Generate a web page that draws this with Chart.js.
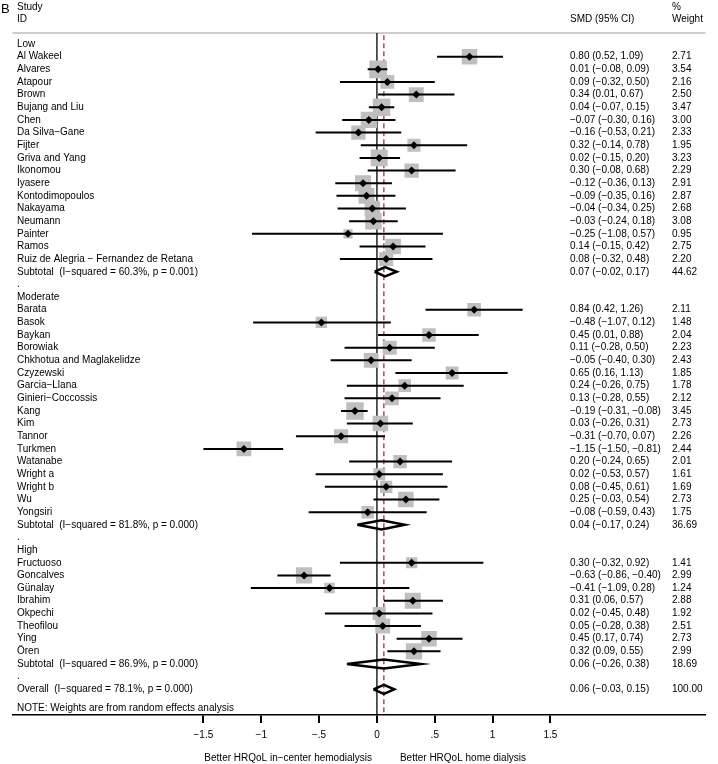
<!DOCTYPE html>
<html>
<head>
<meta charset="utf-8">
<script src="https://cdn.jsdelivr.net/npm/chart.js@4.4.1/dist/chart.umd.min.js"></script>
<style>
    body { margin: 0; background: #fff; }
    #wrap { width: 718px; height: 764px; }
</style>
</head>
<body>
<div id="wrap"><canvas id="forest" width="718" height="764"></canvas></div>
<script>
// Subgroups
const groupNames = ['Low', 'Moderate', 'High'];

// Low
const lowStudies = ['Al Wakeel', 'Alvares', 'Atapour', 'Brown', 'Bujang and Liu', 'Chen', 'Da Silva\u2212Gane',
    'Fijter', 'Griva and Yang', 'Ikonomou', 'Iyasere', 'Kontodimopoulos', 'Nakayama', 'Neumann', 'Painter',
    'Ramos', 'Ruiz de Alegria \u2212 Fernandez de Retana'];
const lowSmd = [0.80, 0.01, 0.09, 0.34, 0.04, -0.07, -0.16, 0.32, 0.02, 0.30, -0.12, -0.09, -0.04, -0.03, -0.25, 0.14, 0.08];
const lowLower = [0.52, -0.08, -0.32, 0.01, -0.07, -0.30, -0.53, -0.14, -0.15, -0.08, -0.36, -0.35, -0.34, -0.24, -1.08, -0.15, -0.32];
const lowUpper = [1.09, 0.09, 0.50, 0.67, 0.15, 0.16, 0.21, 0.78, 0.20, 0.68, 0.13, 0.16, 0.25, 0.18, 0.57, 0.42, 0.48];
const lowWeight = [2.71, 3.54, 2.16, 2.50, 3.47, 3.00, 2.33, 1.95, 3.23, 2.29, 2.91, 2.87, 2.68, 3.08, 0.95, 2.75, 2.20];

// Moderate
const modStudies = ['Barata', 'Basok', 'Baykan', 'Borowiak', 'Chkhotua and Maglakelidze', 'Czyzewski',
    'Garcia\u2212Llana', 'Ginieri\u2212Coccossis', 'Kang', 'Kim', 'Tannor', 'Turkmen', 'Watanabe', 'Wright a',
    'Wright b', 'Wu', 'Yongsiri'];
const modSmd = [0.84, -0.48, 0.45, 0.11, -0.05, 0.65, 0.24, 0.13, -0.19, 0.03, -0.31, -1.15, 0.20, 0.02, 0.08, 0.25, -0.08];
const modLower = [0.42, -1.07, 0.01, -0.28, -0.40, 0.16, -0.26, -0.28, -0.31, -0.26, -0.70, -1.50, -0.24, -0.53, -0.45, -0.03, -0.59];
const modUpper = [1.26, 0.12, 0.88, 0.50, 0.30, 1.13, 0.75, 0.55, -0.08, 0.31, 0.07, -0.81, 0.65, 0.57, 0.61, 0.54, 0.43];
const modWeight = [2.11, 1.48, 2.04, 2.23, 2.43, 1.85, 1.78, 2.12, 3.45, 2.73, 2.26, 2.44, 2.01, 1.61, 1.69, 2.73, 1.75];

// High
const highStudies = ['Fructuoso', 'Goncalves', 'G\u00fcnalay', 'Ibrahim', 'Okpechi', 'Theofilou', 'Ying', '\u00d6ren'];
const highSmd = [0.30, -0.63, -0.41, 0.31, 0.02, 0.05, 0.45, 0.32];
const highLower = [-0.32, -0.86, -1.09, 0.06, -0.45, -0.28, 0.17, 0.09];
const highUpper = [0.92, -0.40, 0.28, 0.57, 0.48, 0.38, 0.74, 0.55];
const highWeight = [1.41, 2.99, 1.24, 2.88, 1.92, 2.51, 2.73, 2.99];

// Pooled estimates
const subtotalI2 = [60.3, 81.8, 86.9];
const subtotalP = ['0.001', '0.000', '0.000'];
const subtotalSmd = [0.07, 0.04, 0.06];
const subtotalLower = [-0.02, -0.17, -0.26];
const subtotalUpper = [0.17, 0.24, 0.38];
const subtotalWeight = [44.62, 36.69, 18.69];

const overallI2 = 78.1;
const overallP = '0.000';
const overallSmd = 0.06;
const overallLower = -0.03;
const overallUpper = 0.15;
const overallWeight = 100.00;

const tickValues = [-1.5, -1, -0.5, 0, 0.5, 1, 1.5];
const tickLabels = ['\u22121.5', '\u22121', '\u2212.5', '0', '.5', '1', '1.5'];

// ---- layout ----
const FONT = '"Liberation Sans", Arial, Helvetica, sans-serif';
const labelX = 17;
const smdX = 570;
const weightX = 672;
const BOX_SCALE = 9.4;      // box side = BOX_SCALE * sqrt(weight)
const DIAMOND_H = 0.36;     // pooled diamond half-height in rows

const fmt = v => (v < 0 ? '\u2212' : '') + Math.abs(v).toFixed(2);
const ciText = (m, l, u) => `${fmt(m)} (${fmt(l)}, ${fmt(u)})`;

// Build rows of the table
const groups = [
    { names: lowStudies, smd: lowSmd, lo: lowLower, hi: lowUpper, w: lowWeight },
    { names: modStudies, smd: modSmd, lo: modLower, hi: modUpper, w: modWeight },
    { names: highStudies, smd: highSmd, lo: highLower, hi: highUpper, w: highWeight }
];
const rows = [];
groups.forEach((g, gi) => {
    rows.push({ label: groupNames[gi], kind: 'head' });
    g.names.forEach((n, i) => {
        rows.push({ label: n, kind: 'study', smd: g.smd[i], lo: g.lo[i], hi: g.hi[i], w: g.w[i] });
    });
    rows.push({
        label: `Subtotal  (I\u2212squared = ${subtotalI2[gi].toFixed(1)}%, p = ${subtotalP[gi]})`,
        kind: 'pooled', smd: subtotalSmd[gi], lo: subtotalLower[gi], hi: subtotalUpper[gi], w: subtotalWeight[gi]
    });
    rows.push({ label: '.', kind: 'gap' });
});
rows.push({
    label: `Overall  (I\u2212squared = ${overallI2.toFixed(1)}%, p = ${overallP})`,
    kind: 'pooled', smd: overallSmd, lo: overallLower, hi: overallUpper, w: overallWeight
});

const studyRows = [];
const pooledRows = [];
rows.forEach((r, i) => {
    if (r.kind === 'study') studyRows.push(i);
    if (r.kind === 'pooled') pooledRows.push(i);
});

const Y_MIN = -0.87;
const Y_MAX = 53.03;

const markerData = studyRows.map(i => ({ x: rows[i].smd, y: i }));
const boxRadius = studyRows.map(i => BOX_SCALE * Math.sqrt(rows[i].w) / 2 / Math.SQRT1_2);
const ciData = [];
studyRows.forEach(i => {
    ciData.push({ x: rows[i].lo, y: i }, { x: rows[i].hi, y: i }, { x: null, y: null });
});
const diamondData = [];
pooledRows.forEach(i => {
    const r = rows[i];
    diamondData.push(
        { x: r.lo, y: i }, { x: r.smd, y: i - DIAMOND_H }, { x: r.hi, y: i },
        { x: r.smd, y: i + DIAMOND_H }, { x: r.lo, y: i }, { x: null, y: null }
    );
});

// Text columns, header and captions
const forestText = {
    id: 'forestText',
    beforeDatasetsDraw(chart) {
        const { ctx, chartArea } = chart;
        ctx.save();
        ctx.strokeStyle = '#bdbdbd';
        ctx.lineWidth = 1.3;
        ctx.beginPath();
        ctx.moveTo(chartArea.left, chartArea.top);
        ctx.lineTo(chartArea.right, chartArea.top);
        ctx.stroke();
        ctx.restore();
    },
    afterDraw(chart) {
        const { ctx, scales } = chart;
        const y = scales.y, x = scales.x;
        ctx.save();
        ctx.fillStyle = '#000';
        ctx.textBaseline = 'middle';
        ctx.textAlign = 'left';

        ctx.font = `13px ${FONT}`;
        ctx.fillText('B', 1, 9);

        ctx.font = `10px ${FONT}`;
        ctx.fillText('Study', labelX, 7);
        ctx.fillText('ID', labelX, 19.5);
        ctx.fillText('SMD (95% CI)', smdX, 19.5);
        ctx.fillText('%', weightX, 7);
        ctx.fillText('Weight', weightX, 19.5);

        rows.forEach((r, i) => {
            const py = y.getPixelForValue(i);
            ctx.fillText(r.label, labelX, py);
            if (r.kind === 'study' || r.kind === 'pooled') {
                ctx.fillText(ciText(r.smd, r.lo, r.hi), smdX, py);
                ctx.fillText(r.w.toFixed(2), weightX, py);
            }
        });

        ctx.fillText('NOTE: Weights are from random effects analysis', labelX, y.getPixelForValue(rows.length + 0.5));

        const zeroPx = x.getPixelForValue(0);
        ctx.textAlign = 'right';
        ctx.fillText('Better HRQoL in\u2212center hemodialysis', zeroPx - 5, 758);
        ctx.textAlign = 'left';
        ctx.fillText('Better HRQoL home dialysis', zeroPx + 23, 758);
        ctx.restore();
    }
};

Chart.defaults.font.family = FONT;
Chart.defaults.font.size = 10;
Chart.defaults.color = '#000';

new Chart(document.getElementById('forest'), {
    type: 'scatter',
    data: {
        datasets: [
            {   // point estimates
                data: markerData,
                pointStyle: 'rectRot',
                pointRadius: 4,
                backgroundColor: '#000',
                borderWidth: 0
            },
            {   // confidence intervals
                data: ciData,
                showLine: true,
                spanGaps: false,
                pointRadius: 0,
                borderColor: '#000',
                borderWidth: 2,
                borderCapStyle: 'butt'
            },
            {   // pooled diamonds
                data: diamondData,
                showLine: true,
                spanGaps: false,
                pointRadius: 0,
                borderColor: '#000',
                borderWidth: 2.5,
                borderJoinStyle: 'miter',
                tension: 0,
                fill: false
            },
            {   // weight boxes
                data: markerData,
                pointStyle: 'rect',
                pointRadius: boxRadius,
                backgroundColor: '#bfbfbf',
                borderWidth: 0
            },
            {   // overall effect line
                data: [{ x: overallSmd, y: -0.7 }, { x: overallSmd, y: Y_MAX }],
                showLine: true,
                pointRadius: 0,
                borderColor: '#a0323f',
                borderWidth: 1.3,
                borderDash: [5, 3]
            },
            {   // line of no effect
                data: [{ x: 0, y: Y_MIN }, { x: 0, y: Y_MAX }],
                showLine: true,
                pointRadius: 0,
                borderColor: '#000',
                borderWidth: 1.3
            }
        ]
    },
    options: {
        responsive: false,
        devicePixelRatio: 1,
        animation: false,
        layout: { padding: { top: 33, left: 5, right: 0, bottom: 0 } },
        plugins: {
            legend: { display: false },
            tooltip: { enabled: false }
        },
        scales: {
            x: {
                type: 'linear',
                min: -3.15,
                max: 2.84,
                afterBuildTicks: scale => { scale.ticks = tickValues.map(v => ({ value: v })); },
                afterFit: scale => { scale.height = 49; },
                ticks: {
                    callback: (v, i) => tickLabels[i],
                    padding: 6,
                    maxRotation: 0,
                    autoSkip: false,
                    font: { size: 10 }
                },
                grid: {
                    drawOnChartArea: false,
                    drawTicks: true,
                    tickLength: 8,
                    color: '#000',
                    lineWidth: 2
                },
                border: { display: true, color: '#000', width: 1.5 }
            },
            y: {
                type: 'linear',
                display: false,
                reverse: true,
                min: Y_MIN,
                max: Y_MAX
            }
        }
    },
    plugins: [forestText]
});
</script>
</body>
</html>
